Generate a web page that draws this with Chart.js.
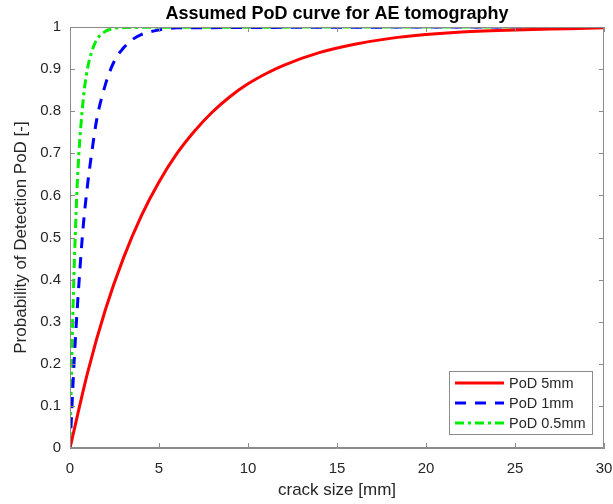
<!DOCTYPE html>
<html>
<head>
<meta charset="utf-8">
<script src="https://cdn.jsdelivr.net/npm/chart.js@4"></script>
<style>
  html, body { margin: 0; padding: 0; background: #fff; }
  #wrap { width: 613px; height: 504px; }
</style>
</head>
<body>
<div id="wrap"><canvas id="chart" width="613" height="504"></canvas></div>
<script>
// values
const xTicks = [0, 5, 10, 15, 20, 25, 30];
const yTicks = [0, 0.1, 0.2, 0.3, 0.4, 0.5, 0.6, 0.7, 0.8, 0.9, 1];

const pod5X = [0, 1, 2, 3, 4, 5, 6, 7, 8, 9, 10, 11, 12, 14, 16, 18, 20, 22, 25, 28, 30];
const pod5Y = [0, 0.181, 0.33, 0.451, 0.551, 0.632, 0.699, 0.753, 0.798, 0.835, 0.865, 0.889, 0.909, 0.939, 0.959, 0.973, 0.982, 0.988, 0.993, 0.996, 0.998];

const pod1X = [0, 0.25, 0.5, 0.75, 1, 1.25, 1.5, 2, 2.5, 3, 3.5, 4, 5, 6, 30];
const pod1Y = [0, 0.22, 0.39, 0.53, 0.63, 0.71, 0.78, 0.865, 0.92, 0.95, 0.97, 0.982, 0.993, 0.998, 1];

const pod05X = [0, 0.1, 0.2, 0.3, 0.4, 0.5, 0.6, 0.8, 1, 1.25, 1.5, 2, 2.5, 3, 30];
const pod05Y = [0, 0.21, 0.38, 0.51, 0.62, 0.70, 0.76, 0.85, 0.905, 0.945, 0.97, 0.99, 0.997, 0.999, 1];

const seriesNames = ["PoD 5mm", "PoD 1mm", "PoD 0.5mm"];
const chartTitle = "Assumed PoD curve for AE tomography";

function toPoints(aX, aY) {
    return aX.map((x, i) => ({ x: x, y: aY[i] }));
}

const FONT = "'Liberation Sans', Arial, sans-serif";
const TEXT = "#262626";
const AXIS = "#8c8c8c";

// MATLAB-like box: inward ticks on all four sides + top/right frame
const boxPlugin = {
    id: "box",
    afterDatasetsDraw(chart) {
        const ctx = chart.ctx;
        const a = chart.chartArea;
        const sx = chart.scales.x, sy = chart.scales.y;
        ctx.save();
        ctx.strokeStyle = AXIS;
        ctx.lineWidth = 1;
        ctx.beginPath();
        ctx.rect(a.left + 0.5, a.top + 0.5, a.right - a.left - 1, a.bottom - a.top - 1);
        const t = 5;
        xTicks.forEach(v => {
            const px = Math.round(sx.getPixelForValue(v)) + 0.5;
            ctx.moveTo(px, a.bottom); ctx.lineTo(px, a.bottom - t);
            ctx.moveTo(px, a.top); ctx.lineTo(px, a.top + t);
        });
        yTicks.forEach(v => {
            const py = Math.round(sy.getPixelForValue(v)) + 0.5;
            ctx.moveTo(a.left, py); ctx.lineTo(a.left + t, py);
            ctx.moveTo(a.right, py); ctx.lineTo(a.right - t, py);
        });
        ctx.stroke();
        ctx.restore();
    },
    afterDraw(chart) {
        const ctx = chart.ctx;
        const a = chart.chartArea;
        ctx.save();
        // title centred over the axes
        ctx.fillStyle = "#000";
        ctx.font = "bold 18px " + FONT;
        ctx.textAlign = "center";
        ctx.textBaseline = "middle";
        ctx.fillText(chartTitle, (a.left + a.right) / 2, 14);

        // legend box in lower right of the axes
        const w = 143, h = 63;
        const x0 = Math.round(a.right - 155), y0 = Math.round(a.bottom - 77);
        ctx.fillStyle = "#fff";
        ctx.fillRect(x0, y0, w, h);
        ctx.strokeStyle = "#8c8c8c";
        ctx.lineWidth = 1;
        ctx.strokeRect(x0 + 0.5, y0 + 0.5, w, h);
        ctx.font = "14.5px " + FONT;
        ctx.textAlign = "left";
        chart.data.datasets.forEach((ds, i) => {
            const yy = y0 + 12 + i * 20;
            ctx.strokeStyle = ds.borderColor;
            ctx.lineWidth = ds.borderWidth;
            ctx.setLineDash(ds.borderDash || []);
            ctx.beginPath();
            ctx.moveTo(x0 + 6, yy);
            ctx.lineTo(x0 + 55, yy);
            ctx.stroke();
            ctx.setLineDash([]);
            ctx.fillStyle = TEXT;
            ctx.fillText(ds.label, x0 + 60, yy + 1);
        });
        ctx.restore();
    }
};

const ctx = document.getElementById("chart").getContext("2d");
new Chart(ctx, {
    type: "line",
    data: {
        datasets: [{
            label: seriesNames[0],
            data: toPoints(pod5X, pod5Y),
            borderColor: "#ff0000",
            borderWidth: 3,
            pointRadius: 0,
            cubicInterpolationMode: "monotone",
            fill: false
        }, {
            label: seriesNames[1],
            data: toPoints(pod1X, pod1Y),
            borderColor: "#0000ff",
            borderWidth: 3,
            borderDash: [11, 9],
            pointRadius: 0,
            cubicInterpolationMode: "monotone",
            fill: false
        }, {
            label: seriesNames[2],
            data: toPoints(pod05X, pod05Y),
            borderColor: "#00ee00",
            borderWidth: 3,
            borderDash: [9, 4, 3, 4],
            pointRadius: 0,
            cubicInterpolationMode: "monotone",
            fill: false
        }]
    },
    options: {
        responsive: false,
        animation: false,
        layout: { padding: { left: 11, right: 0, top: 27, bottom: 0 } },
        plugins: {
            legend: { display: false },
            tooltip: { enabled: false },
            title: { display: false }
        },
        scales: {
            x: {
                type: "linear",
                min: 0,
                max: 30,
                afterBuildTicks: s => { s.ticks = xTicks.map(v => ({ value: v })); },
                afterFit: s => { s.height = 56; s.paddingLeft = 0; s.paddingRight = 9; },
                grid: { display: false, drawTicks: false },
                border: { display: true, color: AXIS },
                ticks: { color: TEXT, font: { family: FONT, size: 15 }, padding: 12, maxRotation: 0 },
                title: {
                    display: true,
                    text: "crack size [mm]",
                    color: TEXT,
                    font: { family: FONT, size: 17 },
                    padding: { top: 2, bottom: 3 }
                }
            },
            y: {
                type: "linear",
                min: 0,
                max: 1,
                afterBuildTicks: s => { s.ticks = yTicks.map(v => ({ value: v })); },
                afterFit: s => { s.width = 59; },
                grid: { display: false, drawTicks: false },
                border: { display: true, color: AXIS },
                ticks: {
                    color: TEXT,
                    font: { family: FONT, size: 15 },
                    padding: 9,
                    callback: v => String(v)
                },
                title: {
                    display: true,
                    text: "Probability of Detection PoD [-]",
                    color: TEXT,
                    font: { family: FONT, size: 17 },
                    padding: { top: 0, bottom: 4 }
                }
            }
        }
    },
    plugins: [boxPlugin]
});
</script>
</body>
</html>
